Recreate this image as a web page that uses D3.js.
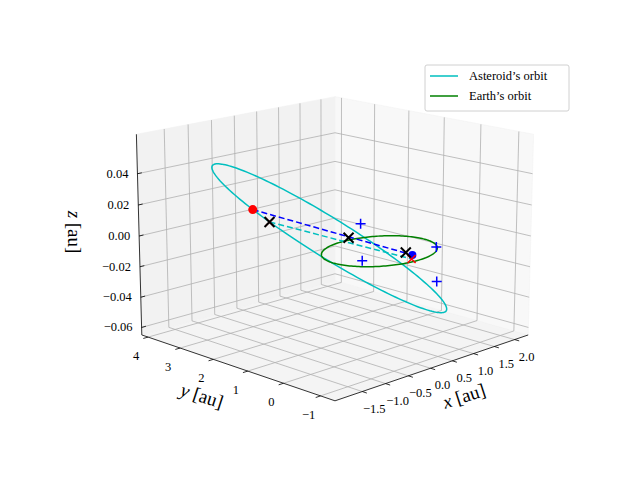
<!DOCTYPE html>
<html><head><meta charset="utf-8">
<script src="https://cdn.jsdelivr.net/npm/d3@7"></script>
<style>body{margin:0;background:#fff}svg{font-family:"Liberation Serif","DejaVu Serif",serif}</style>
</head><body><svg id="c" width="640" height="480"></svg>
<script>
// ---- data ----
const xTicks=[-1.5,-1.0,-0.5,0.0,0.5,1.0,1.5,2.0];
const yTicks=[-1,0,1,2,3,4];
const zTicks=[-0.06,-0.04,-0.02,0.00,0.02,0.04];
const xDomain=[-2.07,2.34], yDomain=[-1.38,4.2], zDomain=[-0.065,0.065];
// asteroid orbit: centre, semi-major and semi-minor vectors
const astCenter=[0.32,1.73,-0.005], astU=[-1.48,1.48,0.05], astV=[1.37,1.37,-0.0085];
const earthRadius=1;
const redDot=[-1.64,1.40,0.0296];
const astX=[-1.53,1.08,0.023];
const blackX=[[-1.53,1.08,0.023],[0.21,1.12,0],[0.21,-0.45,0]];
const redX=[[-1.53,1.08,0.023],[0.0,-0.85,0]];
const blueDot=[0.18,-0.66,0];
const plusPts=[[0.28,0.87,0.01],[0.78,-0.6,0],[-0.6,-0.26,0],[0.66,-0.76,-0.02]];
const legendItems=[["Asteroid’s orbit","#00bfbf"],["Earth’s orbit","#008000"]];

// ---- projection ----
const sx=d3.scaleLinear().domain(xDomain).range([-0.5,0.5]);
const sy=d3.scaleLinear().domain(yDomain).range([-0.5,0.5]);
const sz=d3.scaleLinear().domain(zDomain).range([-0.375,0.375]);
const az=-135*Math.PI/180, el=15*Math.PI/180, D=7, S=277, CX=335, CY=236;
function P(p){
  const X=sx(p[0]),Y=sy(p[1]),Z=sz(p[2]);
  const tw=X*Math.cos(az)+Y*Math.sin(az);
  const h=-X*Math.sin(az)+Y*Math.cos(az);
  const v=Z*Math.cos(el)-tw*Math.sin(el);
  const d=tw*Math.cos(el)+Z*Math.sin(el);
  const f=D/(D-d);
  return [CX+S*h*f, CY-S*v*f];
}
const svg=d3.select("#c");
const line=d3.line().x(d=>P(d)[0]).y(d=>P(d)[1]);
const [x0,x1]=xDomain,[y0,y1]=yDomain,[z0,z1]=zDomain;
// panes
const panes=[
 {pts:[[x0,y0,z0],[x1,y0,z0],[x1,y1,z0],[x0,y1,z0]],c:"#f4f4f4"},
 {pts:[[x0,y1,z0],[x1,y1,z0],[x1,y1,z1],[x0,y1,z1]],c:"#f2f2f2"},
 {pts:[[x1,y0,z0],[x1,y1,z0],[x1,y1,z1],[x1,y0,z1]],c:"#f8f8f8"}];
panes.forEach(p=>svg.append("path").attr("d",line(p.pts)+"Z").attr("fill",p.c).attr("stroke","#f0f0f0").attr("stroke-width",0.5));
const g=svg.append("g").attr("stroke","#b0b0b0").attr("stroke-width",0.8).attr("fill","none");
xTicks.forEach(t=>{g.append("path").attr("d",line([[t,y0,z0],[t,y1,z0],[t,y1,z1]]));});
yTicks.forEach(t=>{g.append("path").attr("d",line([[x0,t,z0],[x1,t,z0],[x1,t,z1]]));});
zTicks.forEach(t=>{g.append("path").attr("d",line([[x0,y1,t],[x1,y1,t],[x1,y0,t]]));});
// axis lines
const ax=svg.append("g").attr("stroke","#000").attr("stroke-width",0.8).attr("fill","none");
ax.append("path").attr("d",line([[x0,y0,z0],[x1,y0,z0]]));
ax.append("path").attr("d",line([[x0,y0,z0],[x0,y1,z0]]));
ax.append("path").attr("d",line([[x0,y1,z0],[x0,y1,z1]]));
const fmt=d3.format(".1f"), minus=s=>s.replace("-","−");
xTicks.forEach(t=>{
  ax.append("path").attr("d",line([[t,y0,z0],[t,y0-0.12,z0]]));
  const q=P([t,y0,z0]);
  svg.append("text").attr("x",q[0]+12).attr("y",q[1]+21).attr("text-anchor","middle").attr("font-size",12.5).text(minus(fmt(t)));
});
yTicks.forEach(t=>{
  ax.append("path").attr("d",line([[x0,t,z0],[x0-0.1,t,z0]]));
  const q=P([x0,t,z0]);
  svg.append("text").attr("x",q[0]-12).attr("y",q[1]+23).attr("text-anchor","middle").attr("font-size",12.5).text(minus(String(t)));
});
zTicks.forEach(t=>{
  ax.append("path").attr("d",line([[x0,y1,t],[x0+0.09,y1,t]]));
  const q=P([x0,y1,t]);
  svg.append("text").attr("x",q[0]-9).attr("y",q[1]+4).attr("text-anchor","end").attr("font-size",12.5).text(minus(d3.format(".2f")(t)));
});
// axis labels
svg.append("text").attr("transform","translate(466,402) rotate(-18)").attr("text-anchor","middle").attr("font-size",19).html('<tspan font-style="italic">x</tspan> [au]');
svg.append("text").attr("transform","translate(200,402) rotate(18)").attr("text-anchor","middle").attr("font-size",19).html('<tspan font-style="italic">y</tspan> [au]');
svg.append("text").attr("transform","translate(68,232) rotate(90)").attr("text-anchor","middle").attr("font-size",19).html('<tspan font-style="italic">z</tspan> [au]');
// orbits
const ang=d3.range(0,361,2).map(a=>a*Math.PI/180);
const astPts=ang.map(t=>[0,1,2].map(i=>astCenter[i]+astU[i]*Math.cos(t)+astV[i]*Math.sin(t)));
const earthPts=ang.map(t=>[earthRadius*Math.cos(t),earthRadius*Math.sin(t),0]);
svg.append("path").attr("d",line(astPts)).attr("fill","none").attr("stroke","#00bfbf").attr("stroke-width",1.5);
svg.append("path").attr("d",line(earthPts)).attr("fill","none").attr("stroke","#008000").attr("stroke-width",1.5);
// dashed lines
svg.append("path").attr("d",line([astX,redX[1]])).attr("stroke","#00bfbf").attr("stroke-width",1.5).attr("stroke-dasharray","6,3");
svg.append("path").attr("d",line([redDot,blueDot])).attr("stroke","#0000ff").attr("stroke-width",1.5).attr("stroke-dasharray","6,3");
// markers
function cross(p,col,r,w){const q=P(p);svg.append("path").attr("d",`M${q[0]-r},${q[1]-r}L${q[0]+r},${q[1]+r}M${q[0]-r},${q[1]+r}L${q[0]+r},${q[1]-r}`).attr("stroke",col).attr("stroke-width",w);}
function plus(p,col,r,w){const q=P(p);svg.append("path").attr("d",`M${q[0]-r},${q[1]}L${q[0]+r},${q[1]}M${q[0]},${q[1]-r}L${q[0]},${q[1]+r}`).attr("stroke",col).attr("stroke-width",w);}
plusPts.forEach(p=>plus(p,"#0000ff",5,1.5));
{const q=P(redDot);svg.append("circle").attr("cx",q[0]).attr("cy",q[1]).attr("r",4.5).attr("fill","#ff0000");}
{const q=P(blueDot);svg.append("circle").attr("cx",q[0]).attr("cy",q[1]).attr("r",4).attr("fill","#0000ff");}
redX.forEach(p=>cross(p,"#ff0000",4,1.5));
blackX.forEach(p=>cross(p,"#000",5,2));
// legend
const lg=svg.append("g").attr("transform","translate(425,65)");
lg.append("rect").attr("width",144).attr("height",46).attr("rx",2).attr("fill","#fff").attr("fill-opacity",0.8).attr("stroke","#d0d0d0");
legendItems.forEach((d,i)=>{
  lg.append("line").attr("x1",5).attr("x2",33).attr("y1",11+i*20).attr("y2",11+i*20).attr("stroke",d[1]).attr("stroke-width",1.5);
  lg.append("text").attr("x",44).attr("y",15+i*20).attr("font-size",12.5).text(d[0]);
});
</script></body></html>
